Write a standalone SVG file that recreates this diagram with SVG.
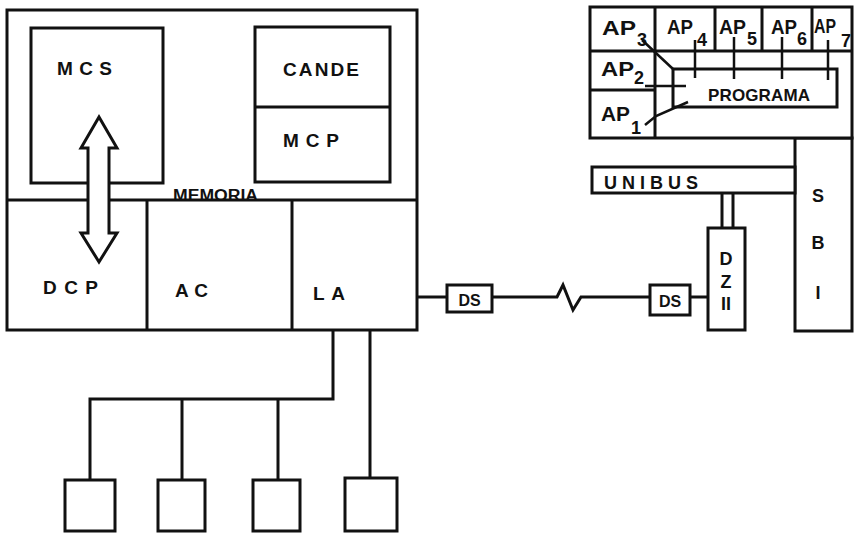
<svg xmlns="http://www.w3.org/2000/svg" width="858" height="536" viewBox="0 0 858 536">
<style>
.b{fill:#fff;stroke:#111;stroke-width:3}
.n{fill:none;stroke:#111;stroke-width:3}
.l{fill:none;stroke:#111;stroke-width:2.5}
.t{font-family:"Liberation Sans",Arial,sans-serif;font-weight:bold;fill:#111}
.s{font-size:19px}
.ap{font-size:20px}
.sub{font-size:18px}
</style>
<rect width="858" height="536" fill="#fff"/>
<g id="computer">
<rect class="b" x="7" y="10" width="410" height="320"/>
<line class="n" x1="7" y1="200" x2="417" y2="200"/>
<line class="n" x1="147" y1="200" x2="147" y2="330"/>
<line class="n" x1="292" y1="200" x2="292" y2="330"/>
<text class="t" x="173" y="201" font-size="16" font-weight="normal" textLength="85" lengthAdjust="spacingAndGlyphs">MEMORIA</text>
</g>
<g id="mcs">
<rect class="b" x="31" y="28" width="132" height="155"/>
<text class="t s" x="57" y="75" textLength="55">MCS</text>
</g>
<g id="cande-mcp">
<rect class="b" x="255" y="27" width="135" height="155"/>
<line class="n" x1="255" y1="107" x2="390" y2="107"/>
<text class="t s" x="283" y="76" textLength="76">CANDE</text>
<text class="t s" x="283" y="147" textLength="56">MCP</text>
</g>
<g id="dcp"><text class="t s" x="43" y="294" textLength="55">DCP</text></g>
<g id="ac"><text class="t s" x="175" y="297" textLength="33">AC</text></g>
<g id="la"><text class="t s" x="313" y="300" textLength="32">LA</text></g>
<g id="arrow">
<polygon class="b" points="99,117 117,148 109,148 109,233 117,233 99,262 81,233 88,233 88,148 81,148"/>
</g>
<g id="terminal1"><rect class="b" x="65" y="480" width="50" height="51"/></g>
<g id="terminal2"><rect class="b" x="158" y="480" width="47" height="51"/></g>
<g id="terminal3"><rect class="b" x="253" y="480" width="47" height="51"/></g>
<g id="terminal4"><rect class="b" x="345" y="478" width="52" height="53"/></g>
<g id="ds1">
<rect class="b" x="447" y="285" width="45" height="27"/>
<text class="t" x="469.5" y="306" font-size="16" text-anchor="middle">DS</text>
</g>
<g id="ds2">
<rect class="b" x="650" y="285" width="40" height="30"/>
<text class="t" x="670" y="307" font-size="16" text-anchor="middle">DS</text>
</g>
<g id="dz11">
<rect class="b" x="708" y="228" width="37" height="102"/>
<text class="t" x="726" y="265" font-size="18" text-anchor="middle">D</text>
<text class="t" x="726" y="288" font-size="18" text-anchor="middle">Z</text>
<text class="t" x="726" y="310" font-size="18" text-anchor="middle">II</text>
</g>
<g id="sbi">
<rect class="b" x="795" y="138" width="57" height="193"/>
<text class="t" font-size="18" x="818" y="202" text-anchor="middle">S</text>
<text class="t" font-size="18" x="818" y="249" text-anchor="middle">B</text>
<text class="t" font-size="18" x="818" y="299" text-anchor="middle">I</text>
</g>
<g id="unibus">
<rect class="b" x="592" y="167" width="203" height="26"/>
<text class="t" font-size="18" x="604" y="189" textLength="94">UNIBUS</text>
</g>
<g id="processor">
<rect class="b" x="590" y="7" width="262" height="131"/>
<line class="n" x1="590" y1="51" x2="852" y2="51"/>
<line class="n" x1="655" y1="7" x2="655" y2="138"/>
<line class="n" x1="590" y1="90" x2="655" y2="90"/>
<line class="n" x1="715" y1="7" x2="715" y2="51"/>
<line class="n" x1="762" y1="7" x2="762" y2="51"/>
<line class="n" x1="812" y1="7" x2="812" y2="51"/>
</g>
<g id="programa">
<rect class="b" x="673" y="69" width="164" height="38"/>
<text class="t" x="708" y="101" font-size="17" textLength="102">PROGRAMA</text>
</g>
<g id="ap-labels">
<text class="t ap" x="602" y="35" textLength="34" lengthAdjust="spacingAndGlyphs">AP</text><text class="t sub" x="637" y="46">3</text>
<text class="t ap" x="667" y="34" textLength="26" lengthAdjust="spacingAndGlyphs">AP</text><text class="t sub" x="697" y="46">4</text>
<text class="t ap" x="719" y="34" textLength="27" lengthAdjust="spacingAndGlyphs">AP</text><text class="t sub" x="747" y="45">5</text>
<text class="t ap" x="771" y="34" textLength="26" lengthAdjust="spacingAndGlyphs">AP</text><text class="t sub" x="797" y="45">6</text>
<text class="t ap" x="814" y="33" textLength="22" lengthAdjust="spacingAndGlyphs">AP</text><text class="t sub" x="841" y="47" font-size="15">7</text>
<text class="t ap" x="601" y="76" textLength="33" lengthAdjust="spacingAndGlyphs">AP</text><text class="t sub" x="634" y="84">2</text>
<text class="t ap" x="601" y="121" textLength="29" lengthAdjust="spacingAndGlyphs">AP</text><text class="t sub" x="631" y="134">1</text>
</g>
<g id="connectors">
<polyline class="n" points="333,331 333,399 90,399 90,480"/>
<line class="n" x1="182" y1="399" x2="182" y2="480"/>
<line class="n" x1="278" y1="399" x2="278" y2="480"/>
<line class="n" x1="370" y1="331" x2="370" y2="478"/>
<polyline class="n" points="418,297 447,297"/>
<polyline class="n" points="492,297 557,297 563,285 573,310 581,297 650,297"/>
<line class="n" x1="690" y1="297" x2="708" y2="297"/>
<line class="n" x1="722" y1="194" x2="722" y2="228"/>
<line class="n" x1="733" y1="194" x2="733" y2="228"/>
<polyline class="l" points="642,40 673,69"/>
<line class="l" x1="695" y1="40" x2="695" y2="78"/>
<line class="l" x1="734" y1="37" x2="734" y2="79"/>
<line class="l" x1="782" y1="37" x2="782" y2="79"/>
<line class="l" x1="828" y1="40" x2="828" y2="80"/>
<line class="l" x1="645" y1="86" x2="686" y2="86"/>
<polyline class="l" points="645,125 656,116 688,102"/>
</g>
</svg>
